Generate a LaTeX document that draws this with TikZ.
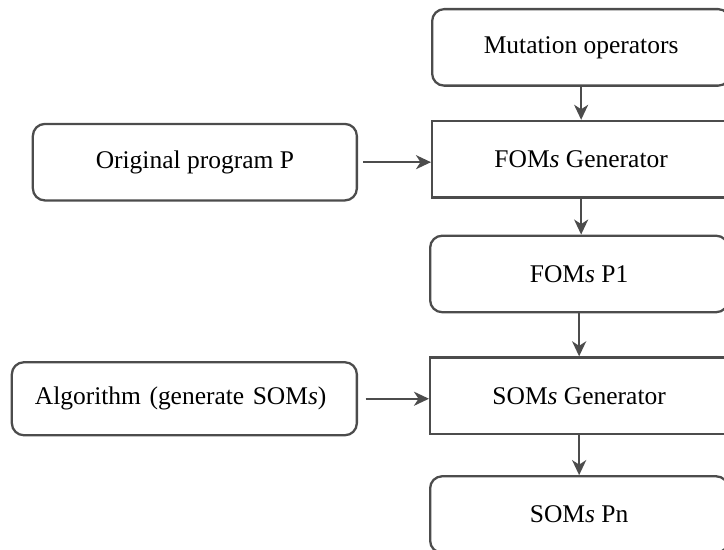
\documentclass[tikz,border=0pt]{standalone}
\usepackage{fontspec}
\setmainfont{Liberation Serif}
\usetikzlibrary{calc, arrows, arrows.meta, positioning}

\begin{document}
\begin{tikzpicture} [node distance=0.72cm,
		% define styles
		roundnodestyle/.style={
			% The shape:
			rectangle,
			% The size:
			minimum width=5.96cm,
			minimum height=1.53cm,
			% The border:
			line width=1.3pt,
			draw=black!70,
			% Corners
			rounded corners=2.4mm,
			% Font
			font=\fontsize{14.5}{17}\selectfont
		},
		squarenodestyle/.style={
			% The shape:
			rectangle,
			% The size:
			minimum width=5.96cm,
			minimum height=1.53cm,
			% The border:
			line width=1.3pt,
			draw=black!70,
			% Font
			font=\fontsize{14.5}{17}\selectfont
		},
		arrow/.style={
			-{Stealth[length=3mm, width=2.8mm, inset=0.9mm]},
			% Thickness
			line width=1.3pt,
			% Color
			black!70
		}]
		% end of style definition

		\useasboundingbox (0,0) rectangle (14.48,-11);
		\clip (0,0) rectangle (14.48,-11);

		% draw nodes
		\node (iMutation) [roundnodestyle, anchor=north west] at (8.62,-0.16) {Mutation operators};
		\node (iFomsGen) [squarenodestyle, below = 0.66cm of iMutation] {FOM\textit{s} Generator};
		\node (iFomsP) [roundnodestyle, below = 0.72cm of iFomsGen, xshift=-0.04cm] {FOM\textit{s} P1};
		\node (iSomsGen) [squarenodestyle, below = 0.86cm of iFomsP] {SOM\textit{s} Generator};
		\node (iSomsP) [roundnodestyle, below = 0.80cm of iSomsGen] {SOM\textit{s} Pn};

		\node (iOriginal) [roundnodestyle, minimum width=6.48cm, left = 1.46cm of iFomsGen, yshift=-0.06cm] {Original program P};
		\node (iAlgorithm) [roundnodestyle, minimum height=1.46cm, text width=5.98cm, inner xsep=0.46cm, align=left, left = 1.42cm of iSomsGen, yshift=-0.06cm] {Algorithm (generate SOM\textit{s})};

		% connect nodes
		\draw [arrow] (iMutation) -- (iFomsGen);
		\draw [arrow] (iFomsGen) -- (iFomsGen |- iFomsP.north);
		\draw [arrow] (iFomsP) -- (iSomsGen);
		\draw [arrow] (iSomsGen) -- (iSomsP);

		\draw [arrow, shorten <=0.1cm] (iOriginal) -- (iOriginal -| iFomsGen.west);
		\draw [arrow, shorten <=0.15cm] (iAlgorithm) -- (iAlgorithm -| iSomsGen.west);
	\end{tikzpicture}
\end{document}
